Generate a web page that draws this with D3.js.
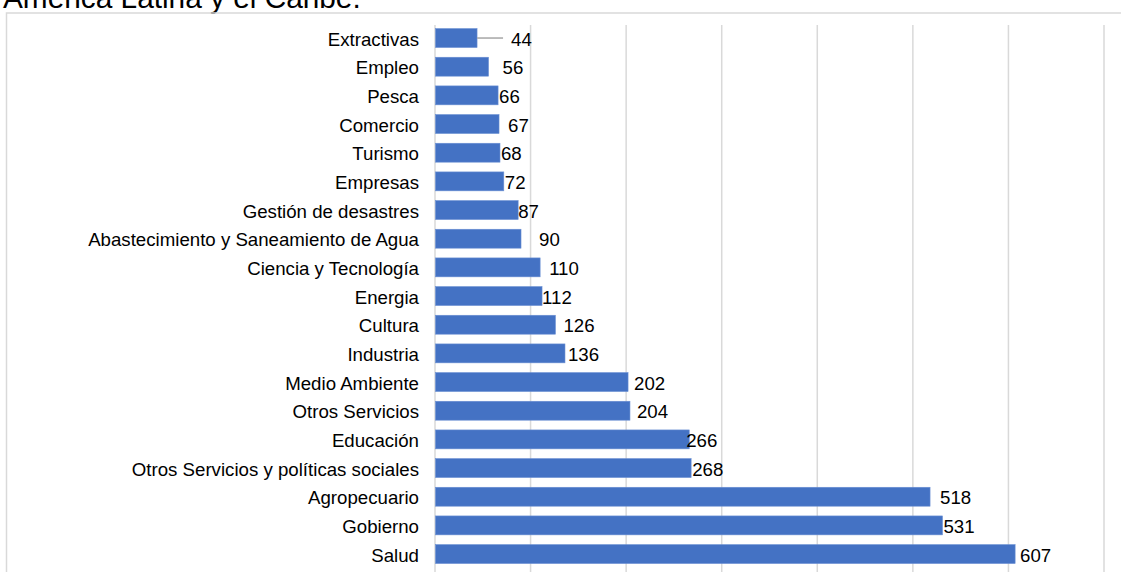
<!DOCTYPE html>
<html>
<head>
<meta charset="utf-8">
<script src="https://cdn.jsdelivr.net/npm/d3@7"></script>
<style>
  html, body { margin: 0; padding: 0; background: #ffffff; }
  svg { display: block; font-family: "Liberation Sans", Arial, sans-serif; }
</style>
</head>
<body>
<svg id="chart" width="1121" height="572"></svg>
<script>
// Sectors, ordered top to bottom
const categories = [
  "Extractivas", "Empleo", "Pesca", "Comercio", "Turismo", "Empresas",
  "Gestión de desastres", "Abastecimiento y Saneamiento de Agua",
  "Ciencia y Tecnología", "Energia", "Cultura", "Industria",
  "Medio Ambiente", "Otros Servicios", "Educación",
  "Otros Servicios y políticas sociales", "Agropecuario", "Gobierno", "Salud"
];
const values = [44, 56, 66, 67, 68, 72, 87, 90, 110, 112, 126, 136, 202, 204, 266, 268, 518, 531, 607];
const tickValues = [0, 100, 200, 300, 400, 500, 600, 700];
const titleText = "América Latina y el Caribe.";

// hand-placed data label offsets (px past the bar end)
const labelShift = [34, 14, 1, 9, 1, 1, 0, 18, 9, 0, 8, 3, 6, 7, -3, 1, 10, 1, 5];

const svg = d3.select("#chart");
const W = 1121, H = 572;

const x = d3.scaleLinear().domain([0, 700]).range([435, 1104]);
const y = d3.scaleBand().domain(categories)
  .range([23.7, 568.4]).paddingInner(0.34).paddingOuter(0.17);

// title (last line of a wrapped heading)
svg.append("text")
  .attr("x", 3).attr("y", 7.5)
  .attr("font-size", "29.8px").attr("fill", "#000")
  .text(titleText);

// chart frame
svg.append("path")
  .attr("d", `M6.5,${H + 2} V13 H${W + 2}`)
  .attr("fill", "none").attr("stroke", "#d9d9d9").attr("stroke-width", 1.5);

// vertical gridlines
svg.append("g")
  .selectAll("line").data(tickValues).join("line")
  .attr("x1", d => x(d)).attr("x2", d => x(d))
  .attr("y1", 25).attr("y2", H)
  .attr("stroke", "#d9d9d9").attr("stroke-width", 1.5);

// bars
svg.append("g")
  .selectAll("rect").data(values).join("rect")
  .attr("x", x(0) + 0.5)
  .attr("y", (d, i) => y(categories[i]))
  .attr("width", d => x(d) - x(0) - 0.5)
  .attr("height", y.bandwidth())
  .attr("fill", "#4472c4")
  .attr("stroke", "#6a8fd3").attr("stroke-width", 0.6);

// category labels
const yAxis = d3.axisLeft(y).tickSize(0).tickPadding(16);
const ga = svg.append("g").attr("transform", `translate(${x(0)},0)`).call(yAxis);
ga.select(".domain").remove();
ga.selectAll("text")
  .attr("font-size", "18.67px")
  .attr("font-family", "Liberation Sans, Arial, sans-serif")
  .attr("fill", "#000")
  .attr("dy", "0.4em");

// leader line for the first data label
svg.append("line")
  .attr("x1", x(values[0])).attr("x2", x(values[0]) + 26)
  .attr("y1", y(categories[0]) + y.bandwidth() / 2)
  .attr("y2", y(categories[0]) + y.bandwidth() / 2)
  .attr("stroke", "#a6a6a6").attr("stroke-width", 1.5);

// data labels
svg.append("g")
  .selectAll("text").data(values).join("text")
  .attr("x", (d, i) => x(d) + labelShift[i])
  .attr("y", (d, i) => y(categories[i]) + y.bandwidth() / 2)
  .attr("dy", "0.4em")
  .attr("font-size", "18.67px").attr("fill", "#000")
  .text(d => d);
</script>
</body>
</html>
